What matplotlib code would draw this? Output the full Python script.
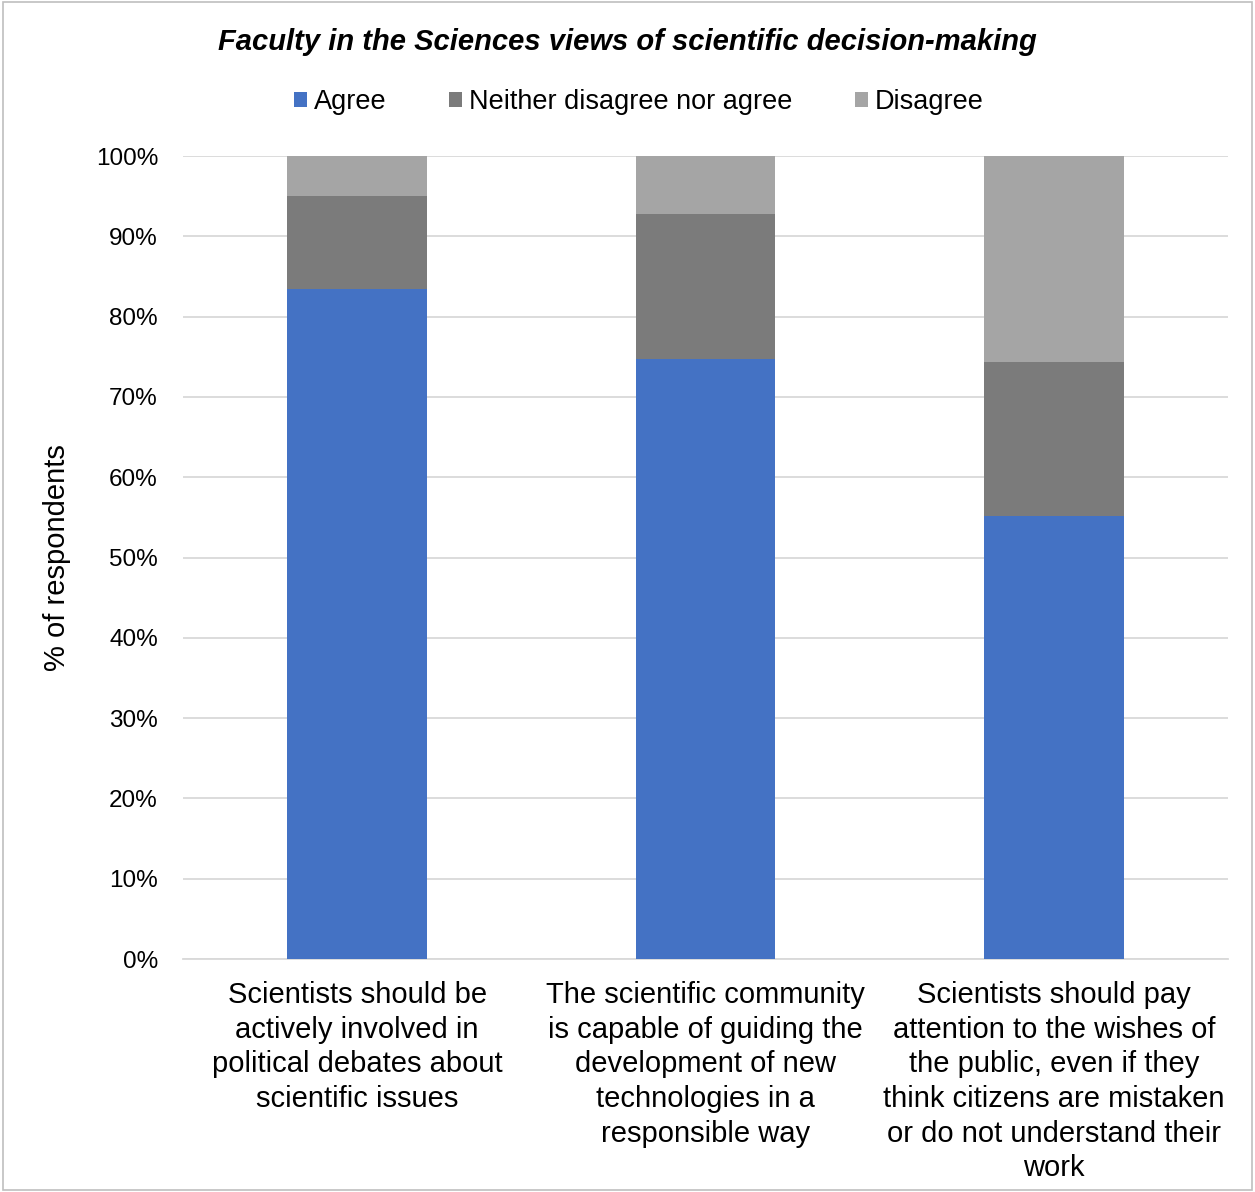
import matplotlib
matplotlib.use("Agg")
import matplotlib.pyplot as plt
from matplotlib.ticker import PercentFormatter
import numpy as np

plt.rcParams['font.family'] = ['Liberation Sans', 'DejaVu Sans']

categories = [
    "Scientists should be\nactively involved in\npolitical debates about\nscientific issues",
    "The scientific community\nis capable of guiding the\ndevelopment of new\ntechnologies in a\nresponsible way",
    "Scientists should pay\nattention to the wishes of\nthe public, even if they\nthink citizens are mistaken\nor do not understand their\nwork",
]
series_names = ["Agree", "Neither disagree nor agree", "Disagree"]
agree = [83.4, 74.7, 55.2]
neither = [11.6, 18.1, 19.1]
disagree = [5.0, 7.2, 25.7]
colors = ["#4472C4", "#7B7B7B", "#A5A5A5"]
yticks = [0, 10, 20, 30, 40, 50, 60, 70, 80, 90, 100]

fig = plt.figure(figsize=(12.55, 11.92), dpi=100)
ax = fig.add_axes([183/1255, 1 - 959/1192, 1045/1255, 803/1192])

x = np.arange(len(categories))
bottom = np.zeros(len(categories))
for name, vals, c in zip(series_names, [agree, neither, disagree], colors):
    ax.bar(x, vals, 0.4, bottom=bottom, color=c, label=name, zorder=3)
    bottom += np.array(vals)

ax.set_xlim(-0.5, 2.5)
ax.set_ylim(0, 100)
ax.set_yticks(yticks)
ax.yaxis.set_major_formatter(PercentFormatter(decimals=0))
ax.set_xticks(x)
ax.set_xticklabels(categories, fontsize=21, linespacing=1.3)
ax.tick_params(axis='y', labelsize=17.5, length=0, pad=18)
ax.tick_params(axis='x', length=0, pad=16)
ax.grid(axis='y', color='#D9D9D9', linewidth=1.3, zorder=0)
for s in ['top', 'right', 'left']:
    ax.spines[s].set_visible(False)
ax.spines['bottom'].set_color('#D9D9D9')
ax.spines['bottom'].set_linewidth(1.3)
ax.set_ylabel("% of respondents", fontsize=21, labelpad=18)

fig.text(0.5, 1 - 42/1192, "Faculty in the Sciences views of scientific decision-making",
         ha='center', va='center', fontsize=21, fontweight='bold', fontstyle='italic')

leg = fig.legend(loc='center', bbox_to_anchor=(0.509, 1 - 102/1192), ncol=3, frameon=False,
                 fontsize=19.5, handlelength=0.5, handleheight=0.5, handletextpad=0.25,
                 columnspacing=2.3)

# figure border
fig.patches.append(plt.Rectangle((0.002, 0.002), 0.996, 0.996, transform=fig.transFigure,
                                 fill=False, edgecolor='#BFBFBF', linewidth=1.2))

fig.savefig("out.png", dpi=100)
